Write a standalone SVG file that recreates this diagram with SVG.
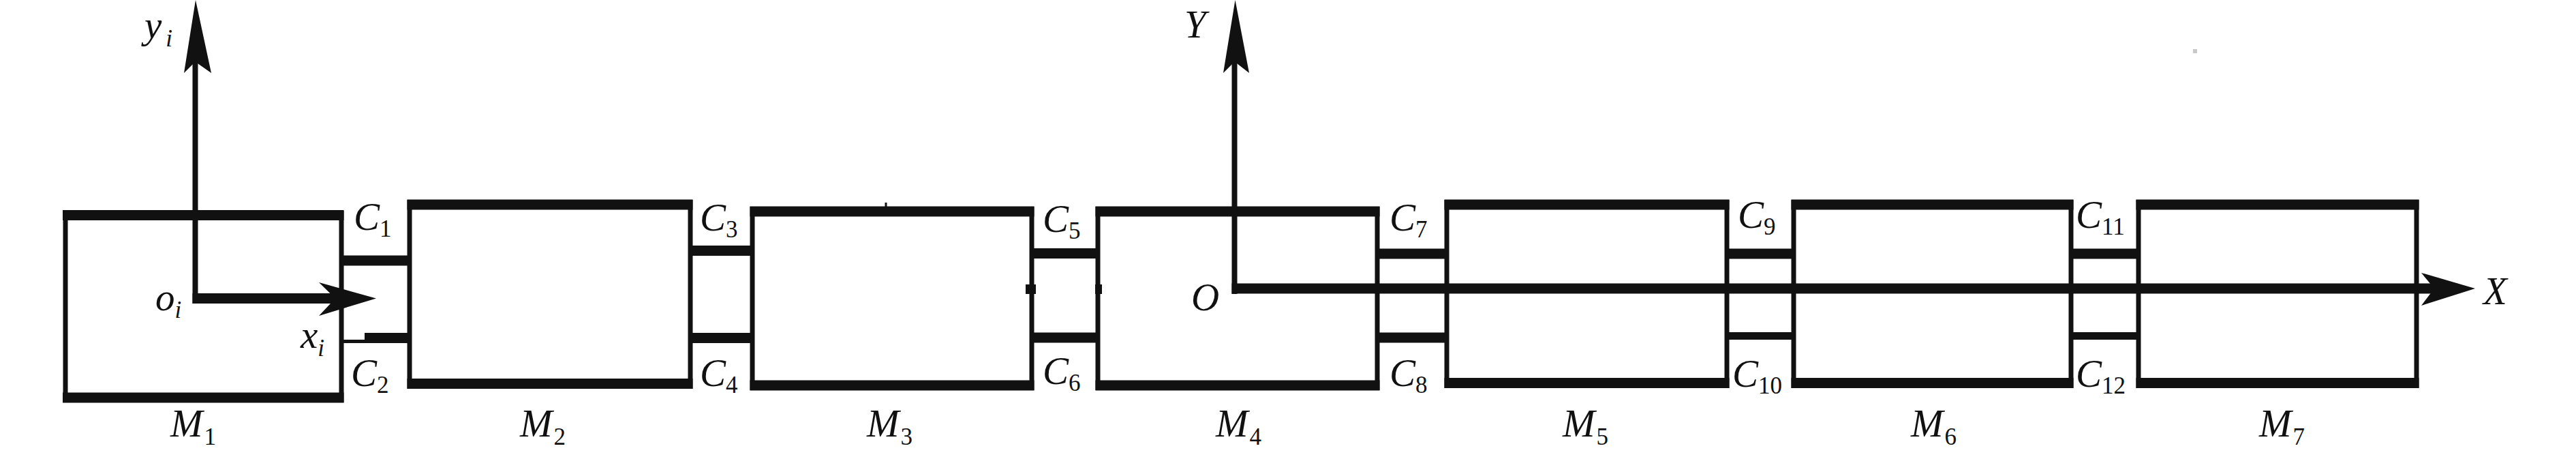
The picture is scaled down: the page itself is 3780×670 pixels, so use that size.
<svg xmlns="http://www.w3.org/2000/svg" width="3780" height="670" viewBox="0 0 3780 670">
<style>
.bar{stroke:#111;stroke-width:15;fill:none}
.side{stroke:#111;stroke-width:7;fill:none}
.conn{stroke:#111;stroke-width:15;fill:none}
.thin{stroke:#111;stroke-width:5;fill:none}
.ax{stroke:#111;fill:none}
.head{fill:#111}
text{font-family:"Liberation Serif","Times New Roman",serif;font-style:italic;font-size:57px;fill:#111}
.sub{font-size:35px}
.num{font-size:35px;font-style:normal}
</style>
<rect width="3780" height="670" fill="#fff"/>
<g id="M1">
<line class="bar" x1="92" y1="315.5" x2="504.5" y2="315.5"/>
<line class="bar" x1="92" y1="583" x2="504.5" y2="583"/>
<line class="side" x1="96" y1="309" x2="96" y2="590"/>
<line class="side" x1="501" y1="309" x2="501" y2="590"/>
<text x="250" y="640">M<tspan class="num" dx="2" dy="12">1</tspan></text>
</g>
<g id="M2">
<line class="bar" x1="597.5" y1="300" x2="1016.5" y2="300"/>
<line class="bar" x1="597.5" y1="562.5" x2="1016.5" y2="562.5"/>
<line class="side" x1="601" y1="293" x2="601" y2="570"/>
<line class="side" x1="1013" y1="293" x2="1013" y2="570"/>
<text x="763" y="640">M<tspan class="num" dx="2" dy="12">2</tspan></text>
</g>
<g id="M3">
<line class="bar" x1="1100.5" y1="310" x2="1517.5" y2="310"/>
<line class="bar" x1="1100.5" y1="565" x2="1517.5" y2="565"/>
<line class="side" x1="1104" y1="303" x2="1104" y2="572"/>
<line class="side" x1="1514" y1="303" x2="1514" y2="572"/>
<rect x="1298.5" y="297" width="3" height="7" fill="#111"/>
<rect x="1505" y="417" width="15" height="14" fill="#111"/>
<text x="1272" y="640">M<tspan class="num" dx="2" dy="12">3</tspan></text>
</g>
<g id="M4">
<line class="bar" x1="1607.5" y1="310" x2="2024.5" y2="310"/>
<line class="bar" x1="1607.5" y1="565" x2="2024.5" y2="565"/>
<line class="side" x1="1611" y1="303" x2="1611" y2="572"/>
<line class="side" x1="2021" y1="303" x2="2021" y2="572"/>
<rect x="1607" y="417" width="10" height="14" fill="#111"/>
<text x="1784" y="640">M<tspan class="num" dx="2" dy="12">4</tspan></text>
</g>
<g id="M5">
<line class="bar" x1="2119.5" y1="300" x2="2537.5" y2="300"/>
<line class="bar" x1="2119.5" y1="561.5" x2="2537.5" y2="561.5"/>
<line class="side" x1="2123" y1="293" x2="2123" y2="569"/>
<line class="side" x1="2534" y1="293" x2="2534" y2="569"/>
<text x="2293" y="640">M<tspan class="num" dx="2" dy="12">5</tspan></text>
</g>
<g id="M6">
<line class="bar" x1="2628.5" y1="300" x2="3042.5" y2="300"/>
<line class="bar" x1="2628.5" y1="561.5" x2="3042.5" y2="561.5"/>
<line class="side" x1="2632" y1="293" x2="2632" y2="569"/>
<line class="side" x1="3039" y1="293" x2="3039" y2="569"/>
<text x="2804" y="640">M<tspan class="num" dx="2" dy="12">6</tspan></text>
</g>
<g id="M7">
<line class="bar" x1="3134.5" y1="300" x2="3549.5" y2="300"/>
<line class="bar" x1="3134.5" y1="561.5" x2="3549.5" y2="561.5"/>
<line class="side" x1="3138" y1="293" x2="3138" y2="569"/>
<line class="side" x1="3546" y1="293" x2="3546" y2="569"/>
<text x="3315" y="640">M<tspan class="num" dx="2" dy="12">7</tspan></text>
</g>
<g id="connectors">
<g id="C1"><line class="conn" x1="501" y1="382" x2="601" y2="382"/><text x="519" y="337">C<tspan class="num" dy="10">1</tspan></text></g>
<g id="C2"><line class="conn" x1="535" y1="495.5" x2="601" y2="495.5"/><line class="thin" x1="501" y1="500.5" x2="536" y2="500.5"/><text x="515" y="566">C<tspan class="num" dy="10">2</tspan></text></g>
<g id="C3"><line class="conn" x1="1013" y1="367.5" x2="1104" y2="367.5"/><text x="1027" y="338">C<tspan class="num" dy="10">3</tspan></text></g>
<g id="C4"><line class="conn" x1="1013" y1="495.5" x2="1104" y2="495.5"/><text x="1027" y="566">C<tspan class="num" dy="10">4</tspan></text></g>
<g id="C5"><line class="conn" x1="1514" y1="371.5" x2="1611" y2="371.5"/><text x="1530" y="340">C<tspan class="num" dy="10">5</tspan></text></g>
<g id="C6"><line class="conn" x1="1514" y1="495" x2="1611" y2="495"/><text x="1530" y="563">C<tspan class="num" dy="10">6</tspan></text></g>
<g id="C7"><line class="conn" x1="2021" y1="372" x2="2123" y2="372"/><text x="2039" y="338">C<tspan class="num" dy="10">7</tspan></text></g>
<g id="C8"><line class="conn" x1="2021" y1="495" x2="2123" y2="495"/><text x="2039" y="566">C<tspan class="num" dy="10">8</tspan></text></g>
<g id="C9"><line class="conn" x1="2534" y1="372" x2="2632" y2="372"/><text x="2550" y="334">C<tspan class="num" dy="10">9</tspan></text></g>
<g id="C10"><line class="conn" x1="2534" y1="492.5" x2="2632" y2="492.5" style="stroke-width:11"/><text x="2542" y="567">C<tspan class="num" dy="10">10</tspan></text></g>
<g id="C11"><line class="conn" x1="3039" y1="372" x2="3138" y2="372"/><text x="3046" y="334">C<tspan class="num" dy="10">11</tspan></text></g>
<g id="C12"><line class="conn" x1="3039" y1="492.5" x2="3138" y2="492.5" style="stroke-width:11"/><text x="3046" y="567">C<tspan class="num" dy="10">12</tspan></text></g>
</g>
<g id="local-axes">
<line class="ax" x1="286.5" y1="445" x2="286.5" y2="90" style="stroke-width:8"/>
<polygon class="head" points="287,0 310,107 290,93 284,93 270,107"/>
<line class="ax" x1="282.5" y1="437.5" x2="500" y2="437.5" style="stroke-width:15"/>
<polygon class="head" points="552,437.5 468,414 492,437.5 468,463"/>
<text x="212" y="56">y<tspan class="sub" dx="6" dy="12">i</tspan></text>
<text x="228" y="455">o<tspan class="sub" dy="11">i</tspan></text>
<text x="441" y="510">x<tspan class="sub" dy="12">i</tspan></text>
</g>
<g id="global-axes">
<line class="ax" x1="1811.5" y1="431" x2="1811.5" y2="90" style="stroke-width:8"/>
<polygon class="head" points="1812.5,0 1833,107 1815,93 1809,93 1795,107"/>
<line class="ax" x1="1807.5" y1="423" x2="3575" y2="423" style="stroke-width:15"/>
<polygon class="head" points="3632,423 3553,400 3572,423 3553,448"/>
<text x="1738" y="55">Y</text>
<text x="1748" y="455">O</text>
<text x="3644" y="446">X</text>
</g>
<rect x="3218" y="72" width="6" height="6" fill="#c8c8c8"/>
</svg>
